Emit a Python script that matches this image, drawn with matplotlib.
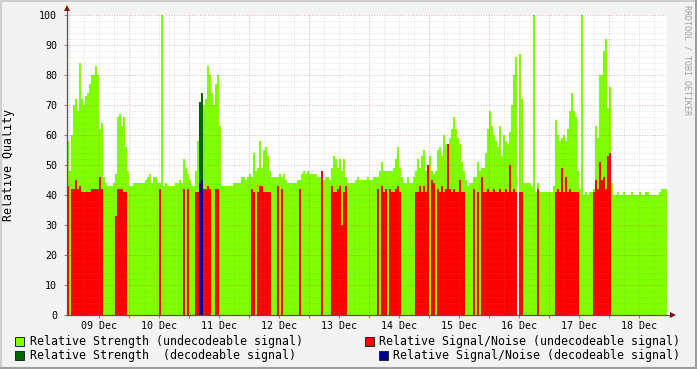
import numpy as np
import matplotlib
matplotlib.use('Agg')
import matplotlib.pyplot as plt
from matplotlib.patches import Rectangle
from matplotlib.lines import Line2D

plt.rcParams['font.family'] = ['DejaVu Sans Mono']

# time axis: days after 09 Dec 00:00, one sample every 48 minutes
start_day = -0.038
step_days = 0.8 / 24

day_labels = ['09 Dec', '10 Dec', '11 Dec', '12 Dec', '13 Dec',
              '14 Dec', '15 Dec', '16 Dec', '17 Dec', '18 Dec']

# Relative Strength (undecodeable signal)
strength_undec = [
    58, 48, 60, 70, 72, 68, 84, 72, 70, 73,
    74, 77, 80, 80, 83, 80, 62, 64, 46, 44,
    43, 43, 43, 44, 47, 66, 67, 63, 66, 56,
    48, 43, 43, 44, 44, 44, 44, 44, 44, 45,
    46, 47, 44, 46, 46, 44, 44, 100, 43, 44,
    43, 43, 43, 43, 44, 44, 45, 44, 52, 49,
    47, 45, 43, 43, 48, 58, 65, 70, 70, 72,
    83, 80, 74, 70, 77, 80, 63, 43, 43, 43,
    43, 43, 43, 44, 44, 44, 44, 46, 46, 45,
    46, 47, 46, 54, 48, 49, 58, 49, 55, 56,
    53, 48, 46, 46, 46, 46, 47, 46, 47, 45,
    44, 44, 44, 44, 44, 45, 45, 47, 48, 47,
    48, 47, 47, 47, 47, 46, 46, 45, 45, 46,
    46, 45, 49, 53, 52, 49, 52, 48, 52, 46,
    44, 44, 44, 44, 45, 46, 45, 45, 45, 45,
    46, 45, 45, 46, 46, 46, 48, 51, 48, 48,
    48, 48, 48, 49, 52, 56, 49, 46, 44, 44,
    46, 44, 44, 46, 48, 52, 49, 53, 55, 48,
    49, 53, 48, 47, 48, 55, 56, 53, 60, 57,
    55, 59, 62, 66, 62, 59, 57, 51, 48, 45,
    43, 44, 44, 46, 46, 51, 48, 49, 49, 54,
    62, 68, 63, 60, 58, 56, 63, 53, 60, 58,
    57, 61, 70, 80, 86, 0, 87, 72, 44, 44,
    44, 44, 43, 100, 41, 44, 41, 41, 41, 41,
    41, 41, 41, 43, 65, 60, 58, 59, 60, 58,
    62, 68, 74, 68, 66, 48, 42, 100, 40, 41,
    40, 41, 41, 42, 63, 59, 80, 80, 88, 92,
    69, 76, 44, 40, 40, 41, 40, 40, 41, 40,
    40, 40, 41, 40, 40, 40, 41, 40, 40, 41,
    41, 40, 40, 40, 40, 40, 41, 42, 42, 42,
]

# Relative Signal/Noise (undecodeable signal), 0 = not present
snr_undec = [
    43, 0, 42, 42, 45, 42, 43, 41, 41, 41,
    41, 41, 42, 42, 42, 42, 46, 42, 0, 0,
    0, 0, 0, 0, 33, 42, 42, 42, 41, 41,
    0, 0, 0, 0, 0, 0, 0, 0, 0, 0,
    0, 0, 0, 0, 0, 0, 42, 0, 0, 0,
    0, 0, 0, 0, 0, 0, 0, 0, 42, 0,
    42, 0, 0, 0, 41, 41, 41, 42, 42, 42,
    43, 42, 0, 0, 42, 42, 0, 0, 0, 0,
    0, 0, 0, 0, 0, 0, 0, 0, 0, 0,
    0, 0, 42, 41, 0, 41, 43, 43, 41, 41,
    41, 41, 0, 0, 0, 43, 0, 42, 0, 0,
    0, 0, 0, 0, 0, 0, 42, 0, 0, 0,
    0, 0, 0, 0, 0, 0, 0, 48, 0, 0,
    0, 0, 43, 41, 41, 42, 43, 30, 41, 43,
    0, 0, 0, 0, 0, 0, 0, 0, 0, 0,
    0, 0, 0, 0, 0, 42, 0, 43, 41, 42,
    0, 42, 41, 41, 42, 43, 41, 0, 0, 0,
    0, 0, 0, 0, 41, 41, 43, 41, 43, 41,
    50, 0, 45, 44, 0, 42, 41, 43, 41, 42,
    57, 42, 41, 42, 41, 41, 45, 41, 41, 0,
    0, 0, 0, 42, 0, 41, 0, 46, 41, 41,
    42, 41, 41, 42, 41, 41, 42, 41, 41, 42,
    41, 50, 41, 42, 41, 0, 41, 41, 0, 0,
    0, 0, 0, 0, 0, 42, 0, 0, 0, 0,
    0, 0, 0, 0, 41, 42, 41, 49, 41, 46,
    41, 42, 41, 41, 41, 41, 0, 0, 0, 0,
    0, 0, 0, 41, 45, 42, 51, 45, 46, 42,
    53, 54, 0, 0, 0, 0, 0, 0, 0, 0,
    0, 0, 0, 0, 0, 0, 0, 0, 0, 0,
    0, 0, 0, 0, 0, 0, 0, 0, 0, 0,
]

# decodeable signal only shows up in two samples on 11 Dec
dec_samples = [66, 67]
strength_dec_vals = [71, 74]
snr_dec_vals = [44, 45]

n = len(strength_undec)
edges = start_day + step_days * np.arange(n + 1)
strength_dec = np.zeros(n); strength_dec[dec_samples] = strength_dec_vals
snr_dec = np.zeros(n); snr_dec[dec_samples] = snr_dec_vals

c_green = '#80ff00'
c_dkgreen = '#006600'
c_red = '#ff0000'
c_blue = '#000099'

W, H = 697, 369
fig = plt.figure(figsize=(W / 100, H / 100), dpi=100, facecolor='#f3f3f3')
ax = fig.add_axes([67 / W, 54 / H, 599.5 / W, 300 / H])
ax.set_facecolor('white')

for vals, col in [(strength_undec, c_green), (strength_dec, c_dkgreen),
                  (snr_undec, c_red), (snr_dec, c_blue)]:
    ax.stairs(vals, edges, fill=True, baseline=0, color=col,
              linewidth=0, antialiased=False, zorder=2)

xmin, xmax = start_day, 9.953
ax.set_xlim(xmin, xmax)
ax.set_ylim(0, 100)

# rrdtool style dotted grid, drawn over the data
dots = (0, (1, 1.6))
for x in np.arange(0, 10, 0.25):
    major = abs(x - round(x)) < 1e-6
    ax.axvline(x, color='#a03030' if major else '#8c8c8c', alpha=0.35 if major else 0.25,
               lw=0.72, ls=dots, zorder=3)
for y in np.arange(2, 101, 2):
    major = y % 10 == 0
    ax.axhline(y, color='#a03030' if major else '#8c8c8c', alpha=0.35 if major else 0.25,
               lw=0.72, ls=dots, zorder=3)

for s in ax.spines.values():
    s.set_visible(False)

# axes with arrows
ax.plot([xmin, xmin], [0, 101.7], color='#555555', lw=0.9, clip_on=False, zorder=4)
ax.plot([xmin, xmax + 0.08], [0, 0], color='#555555', lw=0.9, clip_on=False, zorder=4)
ax.plot([xmin], [102.2], marker='^', ms=4.5, color='#7f1010', clip_on=False, zorder=5, mew=0)
ax.plot([xmax + 0.1], [0], marker='>', ms=4.5, color='#7f1010', clip_on=False, zorder=5, mew=0)

ax.set_xticks(np.arange(10) + 0.5, day_labels)
ax.set_xticks(np.arange(1, 10), minor=True)
ax.set_yticks(np.arange(0, 101, 10))
ax.tick_params(axis='both', which='both', length=2, width=0.7, color='#b07070',
               labelsize=7.2, labelcolor='black', pad=2)
ax.tick_params(axis='y', pad=5)

ax.set_ylabel('Relative Quality', fontsize=8.4, labelpad=8)
ax.yaxis.set_label_coords(-52 / 599.5, 0.5)

fig.text(687.5 / W, 1 - 60 / H, 'RRDTOOL / TOBI OETIKER', rotation=270,
         fontsize=6, color='#a0a0a0', ha='center', va='center')

# legend
legend = [
    (15, 341, c_green, 'Relative Strength (undecodeable signal)', 'left'),
    (15, 355, c_dkgreen, 'Relative Strength  (decodeable signal)', 'left'),
    (365, 341, c_red, 'Relative Signal/Noise (undecodeable signal)', 'right'),
    (379, 355, c_blue, 'Relative Signal/Noise (decodeable signal)', 'right'),
]
for bx, by, col, lab, ha in legend:
    fig.add_artist(Rectangle((bx / W, 1 - (by + 4.5) / H), 9 / W, 9 / H,
                             transform=fig.transFigure, facecolor=col,
                             edgecolor='#222222', linewidth=0.7))
    tx = 30 if ha == 'left' else 680
    fig.text(tx / W, 1 - by / H, lab, fontsize=8.35, ha=ha, va='center')

# canvas frame shading
fig.add_artist(Line2D([0, 1], [1 - 1 / H, 1 - 1 / H], transform=fig.transFigure, color='#cfcfcf', lw=1.5))
fig.add_artist(Line2D([1 / W, 1 / W], [0, 1], transform=fig.transFigure, color='#cfcfcf', lw=1.5))
fig.add_artist(Line2D([0, 1], [1 / H, 1 / H], transform=fig.transFigure, color='#9e9e9e', lw=1.5))
fig.add_artist(Line2D([1 - 1 / W, 1 - 1 / W], [0, 1], transform=fig.transFigure, color='#9e9e9e', lw=1.5))

fig.savefig('out.png', dpi=100, facecolor=fig.get_facecolor())
